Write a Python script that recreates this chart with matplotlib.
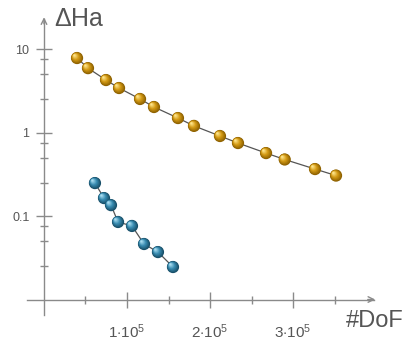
import numpy as np
import matplotlib
matplotlib.use("Agg")
import matplotlib.pyplot as plt
from matplotlib.ticker import FixedLocator, FuncFormatter, NullFormatter
from matplotlib.transforms import offset_copy
from matplotlib.colors import to_rgb

plt.rcParams['font.family'] = ['Liberation Sans', 'DejaVu Sans']
plt.rcParams['mathtext.fontset'] = 'custom'
plt.rcParams['mathtext.rm'] = 'Liberation Sans'
plt.rcParams['mathtext.it'] = 'Liberation Sans'

# data
gold_dof = [39800, 53000, 74700, 90400, 115700, 132500, 161400, 180700,
            212000, 233700, 267500, 290000, 326500, 351800]
gold_err = [7.8, 5.9, 4.25, 3.41, 2.52, 2.02, 1.49, 1.20,
            0.908, 0.748, 0.567, 0.475, 0.365, 0.305]
blue_dof = [61400, 72300, 80700, 89200, 106000, 120500, 137300, 155400]
blue_err = [0.248, 0.164, 0.135, 0.0848, 0.076, 0.0462, 0.037, 0.0245]

x_major = [100000, 200000, 300000]
x_minor = [50000, 150000, 250000, 350000]
y_major = [0.1, 1, 10]
y_labels = ['0.1', '1', '10']
y_minor = [0.025, 0.05, 0.075, 0.25, 0.5, 0.75, 2.5, 5, 7.5]

fig = plt.figure(figsize=(4.06, 3.4), dpi=100)
ax = fig.add_axes([0, 0, 1, 1])
ax.patch.set_alpha(0)
ax.set_yscale('log')
ax.set_xlim(-0.530e5, 4.361e5)
ax.set_ylim(10 ** -2.485, 10 ** 1.587)

axis_col = '#8a8a8a'
text_col = '#555555'

for s in ['top', 'right']:
    ax.spines[s].set_visible(False)
ax.spines['left'].set_position(('data', 0))
ax.spines['bottom'].set_position(('data', 0.01))
ax.spines['left'].set_bounds(0.0065, 23)
ax.spines['bottom'].set_bounds(-0.2e5, 3.97e5)
for s in ['left', 'bottom']:
    ax.spines[s].set_color(axis_col)
    ax.spines[s].set_linewidth(1.0)

# arrow heads
ax.annotate('', xy=(3.99e5, 0.01), xytext=(3.9e5, 0.01),
            arrowprops=dict(arrowstyle='->', color=axis_col, lw=1.0,
                            mutation_scale=10, shrinkA=0, shrinkB=0))
ax.annotate('', xy=(0, 24), xytext=(0, 20),
            arrowprops=dict(arrowstyle='->', color=axis_col, lw=1.0,
                            mutation_scale=10, shrinkA=0, shrinkB=0))

ax.xaxis.set_major_locator(FixedLocator(x_major))
ax.xaxis.set_minor_locator(FixedLocator(x_minor))
ax.yaxis.set_major_locator(FixedLocator(y_major))
ax.yaxis.set_minor_locator(FixedLocator(y_minor))
ax.yaxis.set_major_formatter(FuncFormatter(lambda v, p: y_labels[y_major.index(v)] if v in y_major else ''))
ax.yaxis.set_minor_formatter(NullFormatter())
ax.xaxis.set_major_formatter(FuncFormatter(lambda v, p: r'$%d{\cdot}10^{5}$' % round(v / 1e5)))
ax.xaxis.set_minor_formatter(NullFormatter())

ax.tick_params(which='major', direction='inout', length=11, width=1.0, color=axis_col,
               labelcolor=text_col)
ax.tick_params(which='minor', direction='inout', length=6, width=1.0, color=axis_col)
ax.tick_params(axis='y', which='major', pad=5, labelsize=9)
ax.tick_params(axis='x', which='major', pad=11, labelsize=11)

# lines
ax.plot(gold_dof, gold_err, color='#555555', lw=0.9, zorder=3)
ax.plot(blue_dof, blue_err, color='#555555', lw=0.9, zorder=3)


def spheres(x, y, edge, mid, hi, z):
    n = 9
    d0 = 8.8
    e, m, h = np.array(to_rgb(edge)), np.array(to_rgb(mid)), np.array(to_rgb(hi))
    for i in range(n):
        t = i / (n - 1)
        if t < 0.5:
            c = e + (m - e) * (t / 0.5)
        else:
            c = m + (h - m) * ((t - 0.5) / 0.5)
        d = d0 * (1 - 0.85 * t)
        off = 1.9 * t
        tr = offset_copy(ax.transData, fig=fig, x=-off, y=off, units='points')
        ax.scatter(x, y, s=d ** 2, color=c, edgecolors='none', transform=tr,
                   zorder=z + i * 0.01)


spheres(gold_dof, gold_err, '#8f6200', '#d49b16', '#fde48a', 4)
spheres(blue_dof, blue_err, '#174f69', '#3a8db2', '#a8dcef', 4)

fig.text(54 / 406, 1 - 26 / 340, r'$\Delta$Ha', fontsize=18, color=text_col,
         ha='left', va='baseline')
fig.text(404 / 406, 1 - 327 / 340, '#DoF', fontsize=17, color=text_col,
         ha='right', va='baseline')

fig.savefig('out.png', dpi=100)
